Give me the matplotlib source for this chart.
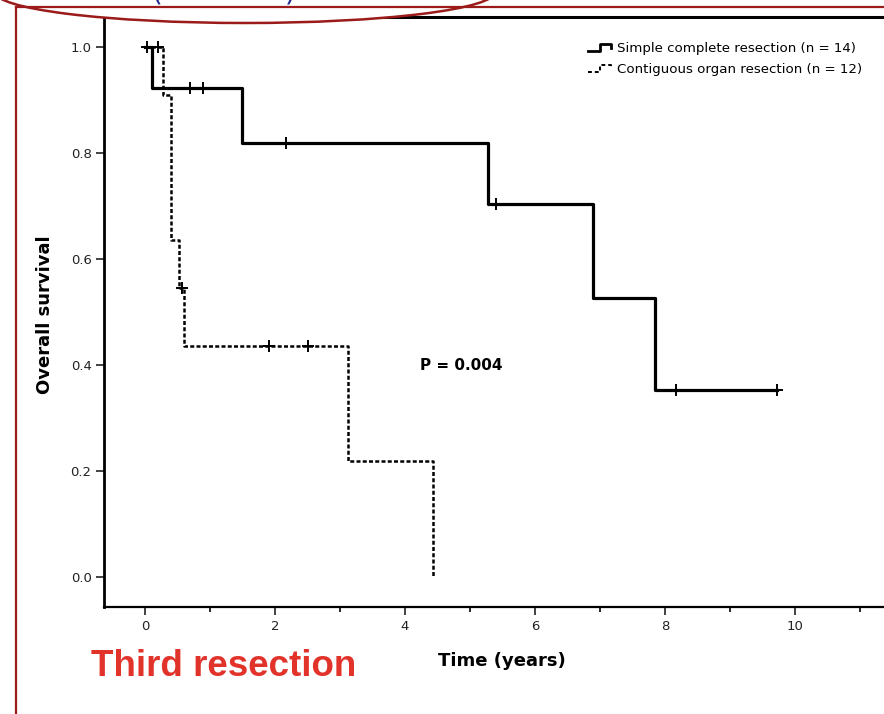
import matplotlib
matplotlib.use("Agg")
import matplotlib.pyplot as plt
from matplotlib.lines import Line2D
from matplotlib.patches import Ellipse
from matplotlib.legend_handler import HandlerBase

# Kaplan-Meier steps (time in years, survival)
simple_t = [0.0, 0.11, 1.49, 5.28, 6.89, 7.85, 9.72]
simple_s = [1.0, 0.923, 0.819, 0.704, 0.526, 0.353, 0.353]
simple_cens_t = [0.03, 0.69, 0.89, 2.17, 5.40, 8.17, 9.72]
simple_cens_s = [1.0, 0.923, 0.923, 0.819, 0.704, 0.353, 0.353]

contig_t = [0.0, 0.28, 0.40, 0.52, 0.60, 3.12, 4.43, 4.43]
contig_s = [1.0, 0.909, 0.636, 0.545, 0.436, 0.218, 0.0, 0.0]
contig_cens_t = [0.20, 0.57, 1.91, 2.51]
contig_cens_s = [1.0, 0.545, 0.436, 0.436]

labels = ["Simple complete resection (n = 14)", "Contiguous organ resection (n = 12)"]
xticks = [0, 2, 4, 6, 8, 10]
yticks = [0.0, 0.2, 0.4, 0.6, 0.8, 1.0]

W, H = 884, 714
fig = plt.figure(figsize=(W / 100, H / 100), dpi=100)
ax = fig.add_axes([104 / W, 1 - 607 / H, 1 - 104 / W, (607 - 17) / H])

ax.step(simple_t, simple_s, where="post", color="black", lw=2.3, zorder=3)
ax.plot(simple_cens_t, simple_cens_s, "+", color="black", ms=9, mew=1.4, zorder=4)
ax.step(contig_t, contig_s, where="post", color="black", lw=1.8,
        linestyle=(0, (1.6, 0.9)), zorder=3)
ax.plot(contig_cens_t, contig_cens_s, "+", color="black", ms=9, mew=1.4, zorder=4)

ax.set_xlim(-0.63, 11.37)
ax.set_ylim(-0.0566, 1.0566)
ax.set_xticks(xticks)
ax.set_xticks([1, 3, 5, 7, 9, 11], minor=True)
ax.set_yticks(yticks)
ax.set_yticklabels(["%.1f" % v for v in yticks])
ax.tick_params(axis="both", which="major", direction="out", length=6, width=1.2,
               labelsize=9.5, colors="#222222")
ax.tick_params(axis="x", which="minor", direction="out", length=3.5, width=1.2)
ax.tick_params(axis="x", pad=3)
ax.tick_params(axis="y", pad=3)
ax.spines["right"].set_visible(False)
ax.spines["top"].set_linewidth(2.2)
ax.spines["left"].set_linewidth(2.0)
ax.spines["bottom"].set_linewidth(1.6)

fig.text(45 / W, 1 - 315 / H, "Overall survival", fontsize=13, fontweight="bold",
         rotation=90, ha="center", va="center")
fig.text(502 / W, 1 - 661 / H, "Time (years)", fontsize=13, fontweight="bold",
         ha="center", va="center")
ax.text(4.23, 0.40, "P = 0.004", fontsize=11, fontweight="bold", ha="left", va="center")


class StepHandler(HandlerBase):
    def __init__(self, ls):
        super().__init__()
        self.ls = ls

    def create_artists(self, legend, orig_handle, xdescent, ydescent, width, height,
                       fontsize, trans):
        x0, y0 = -xdescent, -ydescent
        xs = [x0, x0 + 0.45 * width, x0 + 0.45 * width, x0 + 0.85 * width,
              x0 + 0.85 * width]
        ys = [y0 + 0.15 * height, y0 + 0.15 * height, y0 + 0.85 * height,
              y0 + 0.85 * height, y0 + 0.45 * height]
        ln = Line2D(xs, ys, color="black", lw=2.0 if self.ls == "-" else 1.4,
                    linestyle=self.ls)
        ln.set_transform(trans)
        return [ln]


h1 = Line2D([], [], color="black")
h2 = Line2D([], [], color="black", linestyle="--")
ax.legend([h1, h2], labels, loc="upper left", bbox_to_anchor=(588 / W, 1 - 42 / H),
          bbox_transform=fig.transFigure, frameon=False, fontsize=9.6,
          handlelength=2.0, handletextpad=0.2, labelspacing=0.6, borderpad=0,
          borderaxespad=0,
          handler_map={h1: StepHandler("-"), h2: StepHandler((0, (2, 1.5)))})

# slide decoration: dark red frame, white ellipse callout, red caption
over = fig.add_axes([0, 0, 1, 1], zorder=10)
over.set_xlim(0, W)
over.set_ylim(H, 0)
over.axis("off")
over.plot([16, W], [6.5, 6.5], color="#9b1b1b", lw=1.6)
over.plot([16, 16], [6.5, H], color="#9b1b1b", lw=1.6)
over.add_patch(Ellipse((245, -8), 500, 62, facecolor="white", edgecolor="#9b1b1b",
                       lw=1.8))
over.text(157, -7, "(", fontsize=20, color="#1f2a8c", ha="center", va="center")
over.text(290, -7, ")", fontsize=20, color="#1f2a8c", ha="center", va="center")
over.text(91, 666, "Third resection", fontsize=26.5, fontweight="bold", color="#e2332b",
          ha="left", va="center", family=["Liberation Sans", "DejaVu Sans"])

fig.savefig("out.png", dpi=100)
